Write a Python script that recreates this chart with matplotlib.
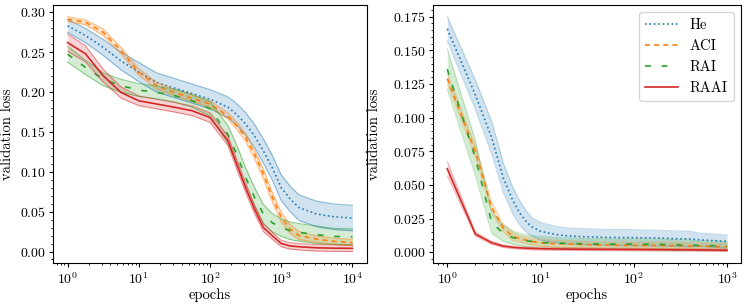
import matplotlib
matplotlib.use("Agg")
import matplotlib.pyplot as plt
import numpy as np

plt.rcParams["font.family"] = "serif"
plt.rcParams["font.serif"] = ["cmr10"]
plt.rcParams["mathtext.fontset"] = "cm"
plt.rcParams["axes.formatter.use_mathtext"] = True
plt.rcParams["font.size"] = 10.5
plt.rcParams["xtick.labelsize"] = 10
plt.rcParams["ytick.labelsize"] = 10
plt.rcParams["xtick.major.size"] = 3
plt.rcParams["ytick.major.size"] = 3
plt.rcParams["xtick.minor.size"] = 1.5
plt.rcParams["ytick.minor.size"] = 1.5
plt.rcParams["xtick.major.pad"] = 2.5
plt.rcParams["ytick.major.pad"] = 2.5

labels = ["He", "ACI", "RAI", "RAAI"]
colors = ["tab:blue", "tab:orange", "tab:green", "tab:red"]
styles = [":", (0, (3, 2.5)), (0, (3.5, 6.5)), "-"]

# left panel: long training runs
epochs_long = [1, 1.78, 3.16, 5.62, 10, 17.8, 31.6, 56.2, 100, 178, 237, 316,
               422, 562, 750, 1000, 1334, 1780, 3160, 5620, 10000]
he_long = [0.283, 0.271, 0.256, 0.239, 0.225, 0.212, 0.205, 0.198, 0.191,
           0.181, 0.172, 0.160, 0.145, 0.126, 0.105, 0.080, 0.066, 0.055,
           0.047, 0.0435, 0.042]
aci_long = [0.2915, 0.2875, 0.275, 0.252, 0.225, 0.208, 0.1995, 0.192, 0.185,
            0.170, 0.158, 0.143, 0.122, 0.097, 0.068, 0.043, 0.028, 0.020,
            0.0155, 0.0126, 0.0113]
rai_long = [0.2475, 0.231, 0.216, 0.208, 0.2025, 0.1995, 0.1955, 0.189, 0.179,
            0.147, 0.122, 0.093, 0.068, 0.047, 0.036, 0.030, 0.026, 0.024,
            0.021, 0.019, 0.0185]
raai_long = [0.262, 0.248, 0.2205, 0.1995, 0.189, 0.185, 0.181, 0.1765, 0.168,
             0.139, 0.1096, 0.080, 0.053, 0.030, 0.0197, 0.010, 0.007, 0.006,
             0.0046, 0.0042, 0.004]
he_long_std = [0.008, 0.009, 0.010, 0.011, 0.012, 0.012, 0.012, 0.012, 0.012,
               0.013, 0.0135, 0.014, 0.0145, 0.015, 0.0155, 0.016, 0.016,
               0.016, 0.016, 0.016, 0.016]
aci_long_std = [0.003, 0.003, 0.004, 0.004, 0.004, 0.004, 0.004, 0.004, 0.004,
                0.004, 0.0045, 0.005, 0.0055, 0.006, 0.006, 0.006, 0.0055,
                0.005, 0.004, 0.004, 0.004]
rai_long_std = [0.010, 0.009, 0.008, 0.008, 0.008, 0.008, 0.008, 0.008, 0.009,
                0.011, 0.0115, 0.012, 0.012, 0.012, 0.0115, 0.011, 0.011,
                0.011, 0.011, 0.010, 0.010]
raai_long_std = [0.011, 0.010, 0.008, 0.007, 0.006, 0.006, 0.006, 0.006, 0.006,
                 0.006, 0.006, 0.006, 0.0055, 0.005, 0.0045, 0.004, 0.004,
                 0.004, 0.004, 0.004, 0.004]

# right panel: short runs
epochs_short = [1, 2, 3, 4, 5, 6, 7, 8, 10, 15, 20, 30, 50, 100, 200, 300, 400,
                500, 700, 1000]
he_short = [0.166, 0.117, 0.085, 0.055, 0.039, 0.029, 0.023, 0.019, 0.0155,
            0.013, 0.012, 0.0115, 0.011, 0.0108, 0.0104, 0.010, 0.0098, 0.0092,
            0.0086, 0.008]
aci_short = [0.129, 0.075, 0.033, 0.018, 0.012, 0.010, 0.009, 0.008, 0.007,
             0.0063, 0.006, 0.0056, 0.0052, 0.005, 0.005, 0.0048, 0.0046,
             0.0045, 0.0043, 0.004]
rai_short = [0.136, 0.070, 0.022, 0.014, 0.011, 0.0095, 0.0085, 0.008, 0.0072,
             0.0068, 0.0065, 0.0062, 0.006, 0.006, 0.0057, 0.0054, 0.0052,
             0.005, 0.0048, 0.0045]
raai_short = [0.062, 0.0135, 0.007, 0.0045, 0.0037, 0.0032, 0.003, 0.0028,
              0.0026, 0.0024, 0.0023, 0.0022, 0.0021, 0.002, 0.0019, 0.0018,
              0.0018, 0.0017, 0.0016, 0.0015]
he_short_std = [0.009, 0.011, 0.012, 0.011, 0.010, 0.009, 0.008, 0.007, 0.0065,
                0.006, 0.006, 0.006, 0.006, 0.006, 0.0058, 0.0058, 0.0058,
                0.005, 0.005, 0.0048]
aci_short_std = [0.004, 0.004, 0.004, 0.003, 0.003, 0.0025, 0.0025, 0.0025,
                 0.0025, 0.0025, 0.0025, 0.0025, 0.0025, 0.0025, 0.0025, 0.0025,
                 0.0025, 0.0025, 0.0025, 0.0025]
rai_short_std = [0.015, 0.013, 0.008, 0.006, 0.005, 0.0045, 0.0045, 0.0045,
                 0.0045, 0.004, 0.004, 0.004, 0.004, 0.004, 0.004, 0.004,
                 0.0038, 0.0035, 0.0035, 0.0035]
raai_short_std = [0.0055, 0.0015, 0.0012, 0.001, 0.001, 0.001, 0.001, 0.001,
                  0.001, 0.001, 0.001, 0.001, 0.001, 0.001, 0.001, 0.001, 0.001,
                  0.001, 0.001, 0.001]


def draw_panel(ax, epochs, means, stds, edge_alpha):
    for mean, std, lab, col, ls in zip(means, stds, labels, colors, styles):
        mean = np.array(mean)
        std = np.array(std)
        lo, hi = mean - std, mean + std
        ax.fill_between(epochs, lo, hi, color=col, alpha=0.2, lw=0)
        ax.plot(epochs, lo, color=col, lw=0.8, alpha=edge_alpha)
        ax.plot(epochs, hi, color=col, lw=0.8, alpha=edge_alpha)
        ax.plot(epochs, mean, color=col, ls=ls, lw=1.2, label=lab)
    ax.set_xscale("log")
    ax.set_xlabel("epochs", labelpad=1)
    ax.set_ylabel("validation loss")
    ax.minorticks_on()


fig = plt.figure(figsize=(7.47, 3.04), dpi=100)
ax1 = fig.add_axes([0.0714, 0.134, 0.4195, 0.8497])
ax2 = fig.add_axes([0.580, 0.134, 0.412, 0.8497])

draw_panel(ax1, epochs_long, [he_long, aci_long, rai_long, raai_long],
           [he_long_std, aci_long_std, rai_long_std, raai_long_std], 0.5)
draw_panel(ax2, epochs_short, [he_short, aci_short, rai_short, raai_short],
           [he_short_std, aci_short_std, rai_short_std, raai_short_std], 0.25)

ax1.yaxis.set_label_coords(-0.125, 0.5)
ax2.yaxis.set_label_coords(-0.17, 0.5)
ax1.set_yticks([0.0, 0.05, 0.10, 0.15, 0.20, 0.25, 0.30])
ax2.set_yticks([0.0, 0.025, 0.05, 0.075, 0.10, 0.125, 0.15, 0.175])
ax2.legend(loc="upper right", fontsize=10.5, handlelength=2.3,
           labelspacing=0.5)

fig.savefig("out.png", dpi=100)
